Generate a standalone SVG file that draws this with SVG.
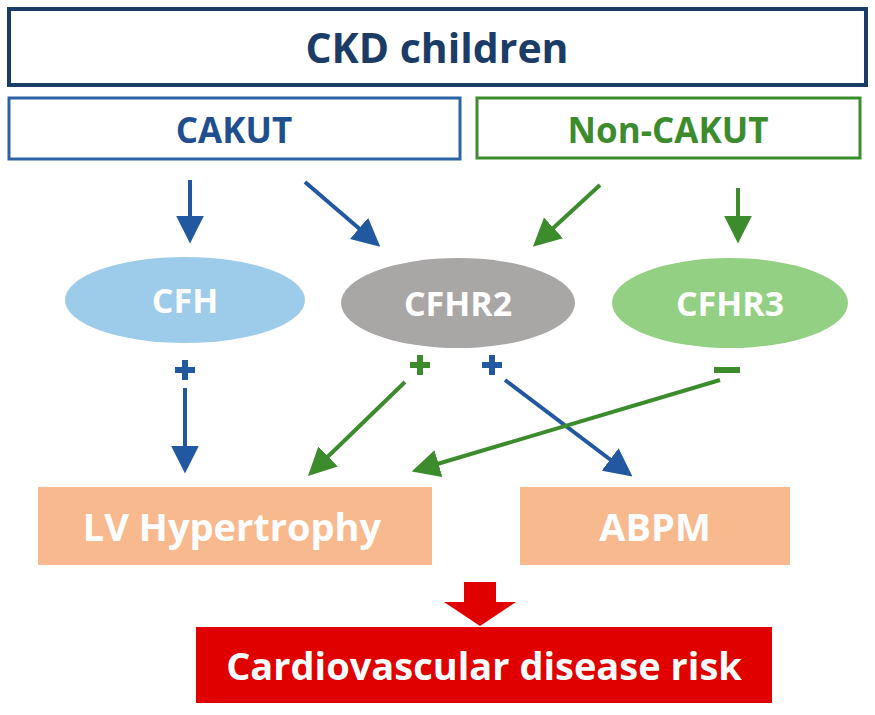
<svg xmlns="http://www.w3.org/2000/svg" width="875" height="715" viewBox="0 0 875 715">
<defs>
<style>
text{font-family:"Open Sans","Liberation Sans",sans-serif;font-weight:bold;text-anchor:middle;dominant-baseline:central}
.bl{stroke:#2158a0;stroke-width:4;fill:none}
.gr{stroke:#3c8c2e;stroke-width:4;fill:none}
</style>
<marker id="ab" viewBox="0 0 10 10" refX="8" refY="5" markerWidth="7" markerHeight="7" orient="auto" markerUnits="strokeWidth"><path d="M0,0 L10,5 L0,10 z" fill="#2158a0"/></marker>
<marker id="ag" viewBox="0 0 10 10" refX="8" refY="5" markerWidth="7" markerHeight="7" orient="auto" markerUnits="strokeWidth"><path d="M0,0 L10,5 L0,10 z" fill="#3c8c2e"/></marker>
</defs>
<rect width="875" height="715" fill="#fff"/>
<g id="ckd"><rect x="9" y="9" width="857" height="76" fill="#fff" stroke="#1b3c66" stroke-width="4"/><text x="437" y="47" font-size="41" fill="#1b3c66">CKD children</text></g>
<g id="cakut"><rect x="9" y="98" width="451" height="61" fill="#fff" stroke="#2d62a6" stroke-width="3"/><text x="234" y="129" font-size="35" fill="#1f4f8f">CAKUT</text></g>
<g id="noncakut"><rect x="477" y="98" width="383" height="60" fill="#fff" stroke="#3c8c2e" stroke-width="3"/><text x="668" y="129" font-size="35" fill="#3c8c2e">Non-CAKUT</text></g>
<g id="cfh"><ellipse cx="185" cy="300" rx="120" ry="43" fill="#9dcbea"/><text x="185" y="300" font-size="34" fill="#fff">CFH</text></g>
<g id="cfhr2"><ellipse cx="458" cy="303" rx="117" ry="45" fill="#a9a6a6"/><text x="458" y="303" font-size="34" fill="#fff">CFHR2</text></g>
<g id="cfhr3"><ellipse cx="730" cy="303" rx="118" ry="45" fill="#93d084"/><text x="730" y="303" font-size="34" fill="#fff">CFHR3</text></g>
<g id="lvh"><rect x="38" y="487" width="394" height="78" fill="#f9b98f"/><text x="232" y="526" font-size="38" fill="#fff">LV Hypertrophy</text></g>
<g id="abpm"><rect x="520" y="487" width="270" height="78" fill="#f9b98f"/><text x="655" y="526" font-size="38" fill="#fff">ABPM</text></g>
<g id="cvd"><rect x="196" y="627" width="576" height="76" fill="#e00000"/><text x="484" y="665" font-size="38" fill="#fff">Cardiovascular disease risk</text></g>
<g id="connectors">
<line class="bl" x1="190" y1="180" x2="190" y2="238" marker-end="url(#ab)"/>
<line class="bl" x1="305" y1="182" x2="376" y2="243" marker-end="url(#ab)"/>
<line class="gr" x1="600" y1="185" x2="537" y2="243" marker-end="url(#ag)"/>
<line class="gr" x1="738" y1="188" x2="738" y2="238" marker-end="url(#ag)"/>
<line class="bl" x1="185" y1="388" x2="185" y2="468" marker-end="url(#ab)"/>
<line class="gr" x1="405" y1="382" x2="312" y2="472" marker-end="url(#ag)"/>
<line class="bl" x1="505" y1="380" x2="628" y2="473" marker-end="url(#ab)"/>
<line class="gr" x1="720" y1="380" x2="417" y2="470" marker-end="url(#ag)"/>
<path d="M464,582 H496 V602 H516 L480,626 L444,602 H464 Z" fill="#e00000"/>
</g>
<g id="signs">
<path d="M175,370 h20 M185,360 v20" stroke="#2158a0" stroke-width="6"/>
<path d="M410,365 h20 M420,355 v20" stroke="#3c8c2e" stroke-width="6"/>
<path d="M482,365 h20 M492,355 v20" stroke="#2158a0" stroke-width="6"/>
<path d="M714,370 h26" stroke="#3c8c2e" stroke-width="6"/>
</g>
</svg>
